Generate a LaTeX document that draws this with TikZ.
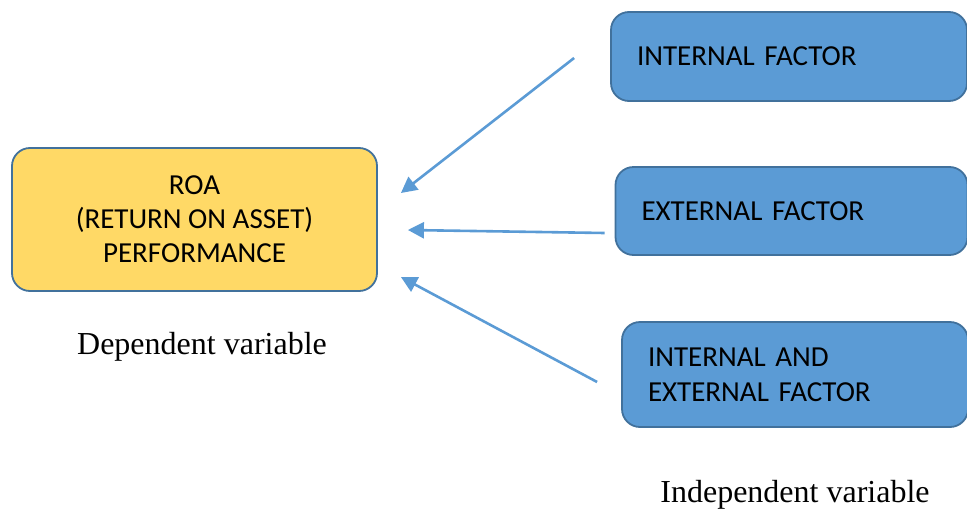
\documentclass[tikz,border=0pt]{standalone}
\usepackage{fontspec}
\setmainfont{Carlito}
\newfontfamily\timesfont{Liberation Serif}
\usetikzlibrary{arrows.meta, positioning, calc}
\definecolor{factorblue}{RGB}{91,155,213}
\definecolor{edgeblue}{RGB}{65,113,156}
\definecolor{roayellow}{RGB}{255,217,102}

\tikzset{
  varbox/.style={rounded corners=9pt, draw=edgeblue, line width=0.9pt, inner sep=0pt},
  factorbox/.style={varbox, fill=factorblue, align=left, inner xsep=13pt,
                    font=\fontsize{14.5}{17.5}\selectfont},
  link/.style={factorblue, line width=1.3pt, -{Triangle[length=8pt,width=8pt]}},
  caption/.style={font=\timesfont\fontsize{16}{19}\selectfont}
}

\begin{document}
\begin{tikzpicture}[x=0.5pt, y=0.5pt]
  \useasboundingbox (0,0) rectangle (967,510);

  % dependent variable
  \node[varbox, fill=roayellow, minimum width=182.5pt, minimum height=71.5pt, align=center,
        font=\fontsize{14.5}{17}\selectfont] (roa) at (194.5,290.5)
    {ROA\\(RETURN ON ASSET)\\PERFORMANCE};
  \node[caption] (dep) at (202,163) {Dependent variable};

  % independent variables
  \node[factorbox, minimum height=44.5pt, text width=152pt] (int) at (789,453.5)
    {INTERNAL FACTOR};
  \node[factorbox, minimum height=44pt, text width=150pt] (ext) at (791.5,299)
    {EXTERNAL FACTOR};
  \node[factorbox, minimum height=52.5pt, text width=147pt] (both) at (795,135.5)
    {INTERNAL AND\\EXTERNAL FACTOR};
  \node[caption] (indep) at (795,15) {Independent variable};

  % arrow ends
  \coordinate (s1) at ($(int.west)+(-18pt,-0.75pt)$);
  \coordinate (s2) at ($(ext.west)+(-5pt,-11pt)$);
  \coordinate (s3) at ($(both.west)+(-12pt,-3.75pt)$);
  \coordinate (e1) at ($(roa.east)+(11.5pt,13.25pt)$);
  \coordinate (e2) at ($(roa.east)+(15pt,-5.25pt)$);
  \coordinate (e3) at ($(roa.east)+(11.5pt,-28.75pt)$);

  \draw[link] (s1) -- (e1);
  \draw[link] (s2) -- (e2);
  \draw[link] (s3) -- (e3);
\end{tikzpicture}
\end{document}
